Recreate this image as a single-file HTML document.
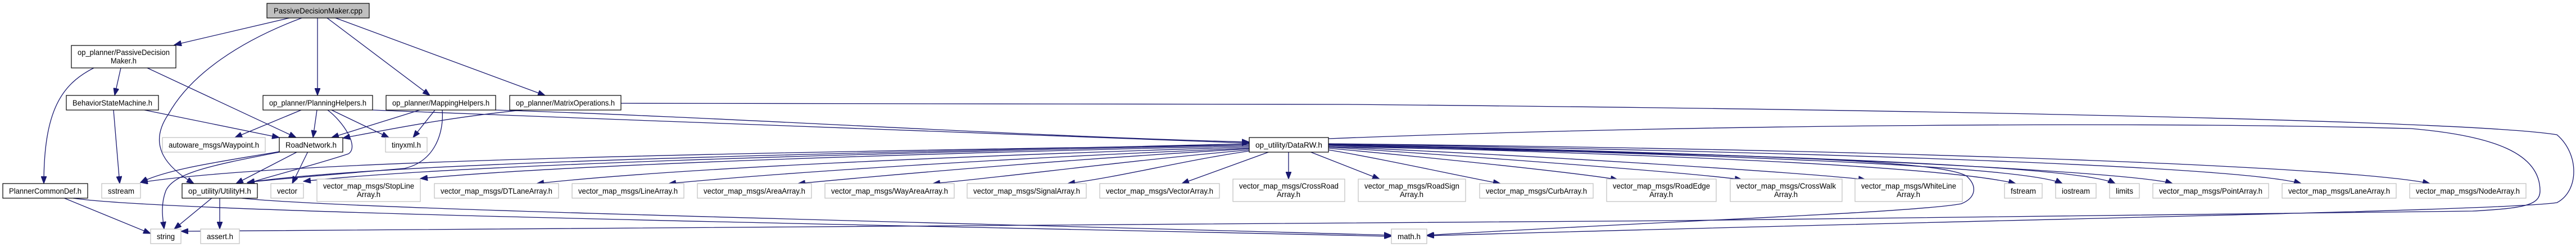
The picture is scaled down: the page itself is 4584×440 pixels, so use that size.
<!DOCTYPE html>
<html><head><meta charset="utf-8"><style>
html,body{margin:0;padding:0;background:#fff;width:4584px;height:440px;overflow:hidden}
svg text{font-family:"Liberation Sans",Arial,sans-serif;font-size:14px;fill:#000}
.e{fill:none;stroke:#191970;stroke-width:1.3}
.b{fill:#fff;stroke:#000;stroke-width:1.2}
.g{fill:#fff;stroke:#bfbfbf;stroke-width:1.2}
</style></head><body>
<svg width="4584" height="440" viewBox="0 0 4584 440" xmlns="http://www.w3.org/2000/svg">
<defs><marker id="a" markerUnits="userSpaceOnUse" markerWidth="14" markerHeight="10" refX="13" refY="5" orient="auto"><path d="M0,0 L13,5 L0,10 z" fill="#191970" stroke="#191970"/></marker></defs>
<g marker-end="url(#a)">
<path class="e" d="M515,32 L310,80"/>
<path class="e" d="M537,32 C430,72 340,131 300,203 C260,261 300,300 345,327"/>
<path class="e" d="M565,32 L565,170"/>
<path class="e" d="M582,32 L765,170"/>
<path class="e" d="M597,32 L970,170"/>
<path class="e" d="M167,121 C110,150 78,196 78,327"/>
<path class="e" d="M215,121 L204,170"/>
<path class="e" d="M262,121 L527,245"/>
<path class="e" d="M257,196 L497,245"/>
<path class="e" d="M202,196 L213,327"/>
<path class="e" d="M536,196 L418,245"/>
<path class="e" d="M564,196 L557,245"/>
<path class="e" d="M590,196 L692,245"/>
<path class="e" d="M583,196 C610,216 640,261 620,274 C560,294 480,314 440,327"/>
<path class="e" d="M663,196 C1200,216 1800,242 2223,255"/>
<path class="e" d="M747,196 L590,245"/>
<path class="e" d="M774,196 L735,245"/>
<path class="e" d="M787,196 C790,235 775,287 720,300 C600,310 480,320 440,325"/>
<path class="e" d="M882,196 C1300,209 1800,242 2223,253"/>
<path class="e" d="M930,196 C800,209 700,229 610,246"/>
<path class="e" d="M1105,184 L2400,186 C3500,196 4400,216 4550,240 C4590,274 4590,340 4550,361 C4450,376 3500,392 2539,420"/>
<path class="e" d="M497,270 C400,287 300,300 250,325"/>
<path class="e" d="M497,271 C380,294 310,307 295,340 C285,366 290,392 292,408"/>
<path class="e" d="M530,270 L420,327"/>
<path class="e" d="M548,270 L520,327"/>
<path class="e" d="M378,352 L310,408"/>
<path class="e" d="M391,352 L391,408"/>
<path class="e" d="M430,353 C600,372 1500,392 2476,419"/>
<path class="e" d="M112,352 L268,416"/>
<path class="e" d="M130,353 C300,379 1500,399 2476,421"/>
<path class="e" d="M2223,258 C1200,274 500,287 250,325"/>
<path class="e" d="M2223,256 C1500,274 700,287 440,325"/>
<path class="e" d="M2223,258 C1500,274 800,294 540,323"/>
<path class="e" d="M2223,260 C1600,274 1000,294 748,318"/>
<path class="e" d="M2223,262 C1700,278 1200,300 955,327"/>
<path class="e" d="M2223,264 C1800,281 1400,307 1190,327"/>
<path class="e" d="M2223,265 C1900,284 1600,310 1420,327"/>
<path class="e" d="M2223,267 C2000,287 1800,314 1660,327"/>
<path class="e" d="M2223,269 C2100,287 2000,314 1900,327"/>
<path class="e" d="M2260,270 L2103,327"/>
<path class="e" d="M2293,270 L2293,319"/>
<path class="e" d="M2330,270 L2455,319"/>
<path class="e" d="M2364,267 C2450,281 2600,314 2670,327"/>
<path class="e" d="M2364,264 C2550,281 2800,307 2879,320"/>
<path class="e" d="M2364,262 C2650,281 3000,307 3100,320"/>
<path class="e" d="M2364,261 C2750,278 3200,307 3320,320"/>
<path class="e" d="M2364,259 C2900,274 3450,294 3587,327"/>
<path class="e" d="M2364,258 C3000,274 3600,294 3670,327"/>
<path class="e" d="M2364,258 C3100,274 3700,294 3764,327"/>
<path class="e" d="M2364,257 C3200,274 3800,307 3866,327"/>
<path class="e" d="M2364,256 C3400,274 4000,300 4095,327"/>
<path class="e" d="M2364,256 C3500,268 4200,300 4324,327"/>
<path class="e" d="M2364,261 C3000,274 3450,281 3500,314 C3520,333 3515,353 3490,363 C3400,379 3000,392 2539,419"/>
<path class="e" d="M2364,247 C3000,222 3800,216 4290,229 C4440,242 4520,274 4520,340 C4520,366 4490,371 4400,376 C3000,399 1000,405 322,412"/>
</g>
<rect class="b" x="475" y="6" width="182" height="26" fill="#bfbfbf" style="fill:#bfbfbf"/><text x="487" y="24" textLength="158" lengthAdjust="spacingAndGlyphs">PassiveDecisionMaker.cpp</text>
<rect class="b" x="127" y="81" width="186" height="40"/><text x="138" y="98" textLength="164" lengthAdjust="spacingAndGlyphs">op_planner/PassiveDecision</text><text x="197" y="113" textLength="46" lengthAdjust="spacingAndGlyphs">Maker.h</text>
<rect class="b" x="118" y="170" width="164" height="26"/><text x="129" y="188" textLength="142" lengthAdjust="spacingAndGlyphs">BehaviorStateMachine.h</text>
<rect class="b" x="468" y="170" width="195" height="26"/><text x="479" y="188" textLength="173" lengthAdjust="spacingAndGlyphs">op_planner/PlanningHelpers.h</text>
<rect class="b" x="687" y="170" width="195" height="26"/><text x="698" y="188" textLength="173" lengthAdjust="spacingAndGlyphs">op_planner/MappingHelpers.h</text>
<rect class="b" x="907" y="170" width="198" height="26"/><text x="918" y="188" textLength="176" lengthAdjust="spacingAndGlyphs">op_planner/MatrixOperations.h</text>
<rect class="g" x="289" y="245" width="183" height="26"/><text x="300" y="263" textLength="161" lengthAdjust="spacingAndGlyphs">autoware_msgs/Waypoint.h</text>
<rect class="b" x="497" y="245" width="113" height="26"/><text x="508" y="263" textLength="91" lengthAdjust="spacingAndGlyphs">RoadNetwork.h</text>
<rect class="g" x="686" y="245" width="74" height="26"/><text x="697" y="263" textLength="52" lengthAdjust="spacingAndGlyphs">tinyxml.h</text>
<rect class="b" x="2223" y="245" width="141" height="26"/><text x="2234" y="263" textLength="119" lengthAdjust="spacingAndGlyphs">op_utility/DataRW.h</text>
<rect class="b" x="5" y="327" width="151" height="26"/><text x="16" y="345" textLength="129" lengthAdjust="spacingAndGlyphs">PlannerCommonDef.h</text>
<rect class="g" x="181" y="327" width="69" height="26"/><text x="192" y="345" textLength="47" lengthAdjust="spacingAndGlyphs">sstream</text>
<rect class="b" x="324" y="327" width="134" height="26"/><text x="335" y="345" textLength="112" lengthAdjust="spacingAndGlyphs">op_utility/UtilityH.h</text>
<rect class="g" x="482" y="327" width="58" height="26"/><text x="493" y="345" textLength="36" lengthAdjust="spacingAndGlyphs">vector</text>
<rect class="g" x="564" y="319" width="184" height="40"/><text x="575" y="336" textLength="162" lengthAdjust="spacingAndGlyphs">vector_map_msgs/StopLine</text><text x="635" y="351" textLength="42" lengthAdjust="spacingAndGlyphs">Array.h</text>
<rect class="g" x="773" y="327" width="221" height="26"/><text x="784" y="345" textLength="199" lengthAdjust="spacingAndGlyphs">vector_map_msgs/DTLaneArray.h</text>
<rect class="g" x="1018" y="327" width="199" height="26"/><text x="1029" y="345" textLength="177" lengthAdjust="spacingAndGlyphs">vector_map_msgs/LineArray.h</text>
<rect class="g" x="1241" y="327" width="203" height="26"/><text x="1252" y="345" textLength="181" lengthAdjust="spacingAndGlyphs">vector_map_msgs/AreaArray.h</text>
<rect class="g" x="1468" y="327" width="230" height="26"/><text x="1479" y="345" textLength="208" lengthAdjust="spacingAndGlyphs">vector_map_msgs/WayAreaArray.h</text>
<rect class="g" x="1721" y="327" width="212" height="26"/><text x="1732" y="345" textLength="190" lengthAdjust="spacingAndGlyphs">vector_map_msgs/SignalArray.h</text>
<rect class="g" x="1957" y="327" width="213" height="26"/><text x="1968" y="345" textLength="191" lengthAdjust="spacingAndGlyphs">vector_map_msgs/VectorArray.h</text>
<rect class="g" x="2194" y="319" width="199" height="40"/><text x="2205" y="336" textLength="177" lengthAdjust="spacingAndGlyphs">vector_map_msgs/CrossRoad</text><text x="2272" y="351" textLength="42" lengthAdjust="spacingAndGlyphs">Array.h</text>
<rect class="g" x="2417" y="319" width="191" height="40"/><text x="2428" y="336" textLength="169" lengthAdjust="spacingAndGlyphs">vector_map_msgs/RoadSign</text><text x="2491" y="351" textLength="42" lengthAdjust="spacingAndGlyphs">Array.h</text>
<rect class="g" x="2633" y="327" width="202" height="26"/><text x="2644" y="345" textLength="180" lengthAdjust="spacingAndGlyphs">vector_map_msgs/CurbArray.h</text>
<rect class="g" x="2859" y="319" width="195" height="40"/><text x="2870" y="336" textLength="173" lengthAdjust="spacingAndGlyphs">vector_map_msgs/RoadEdge</text><text x="2935" y="351" textLength="42" lengthAdjust="spacingAndGlyphs">Array.h</text>
<rect class="g" x="3079" y="319" width="199" height="40"/><text x="3090" y="336" textLength="177" lengthAdjust="spacingAndGlyphs">vector_map_msgs/CrossWalk</text><text x="3157" y="351" textLength="42" lengthAdjust="spacingAndGlyphs">Array.h</text>
<rect class="g" x="3301" y="319" width="191" height="40"/><text x="3312" y="336" textLength="169" lengthAdjust="spacingAndGlyphs">vector_map_msgs/WhiteLine</text><text x="3375" y="351" textLength="42" lengthAdjust="spacingAndGlyphs">Array.h</text>
<rect class="g" x="3567" y="327" width="67" height="26"/><text x="3578" y="345" textLength="45" lengthAdjust="spacingAndGlyphs">fstream</text>
<rect class="g" x="3658" y="327" width="72" height="26"/><text x="3669" y="345" textLength="50" lengthAdjust="spacingAndGlyphs">iostream</text>
<rect class="g" x="3754" y="327" width="53" height="26"/><text x="3765" y="345" textLength="31" lengthAdjust="spacingAndGlyphs">limits</text>
<rect class="g" x="3831" y="327" width="206" height="26"/><text x="3842" y="345" textLength="184" lengthAdjust="spacingAndGlyphs">vector_map_msgs/PointArray.h</text>
<rect class="g" x="4061" y="327" width="203" height="26"/><text x="4072" y="345" textLength="181" lengthAdjust="spacingAndGlyphs">vector_map_msgs/LaneArray.h</text>
<rect class="g" x="4288" y="327" width="207" height="26"/><text x="4299" y="345" textLength="185" lengthAdjust="spacingAndGlyphs">vector_map_msgs/NodeArray.h</text>
<rect class="g" x="268" y="408" width="54" height="26"/><text x="279" y="426" textLength="32" lengthAdjust="spacingAndGlyphs">string</text>
<rect class="g" x="357" y="408" width="69" height="26"/><text x="368" y="426" textLength="47" lengthAdjust="spacingAndGlyphs">assert.h</text>
<rect class="g" x="2476" y="408" width="63" height="26"/><text x="2487" y="426" textLength="41" lengthAdjust="spacingAndGlyphs">math.h</text>
</svg>
</body></html>
